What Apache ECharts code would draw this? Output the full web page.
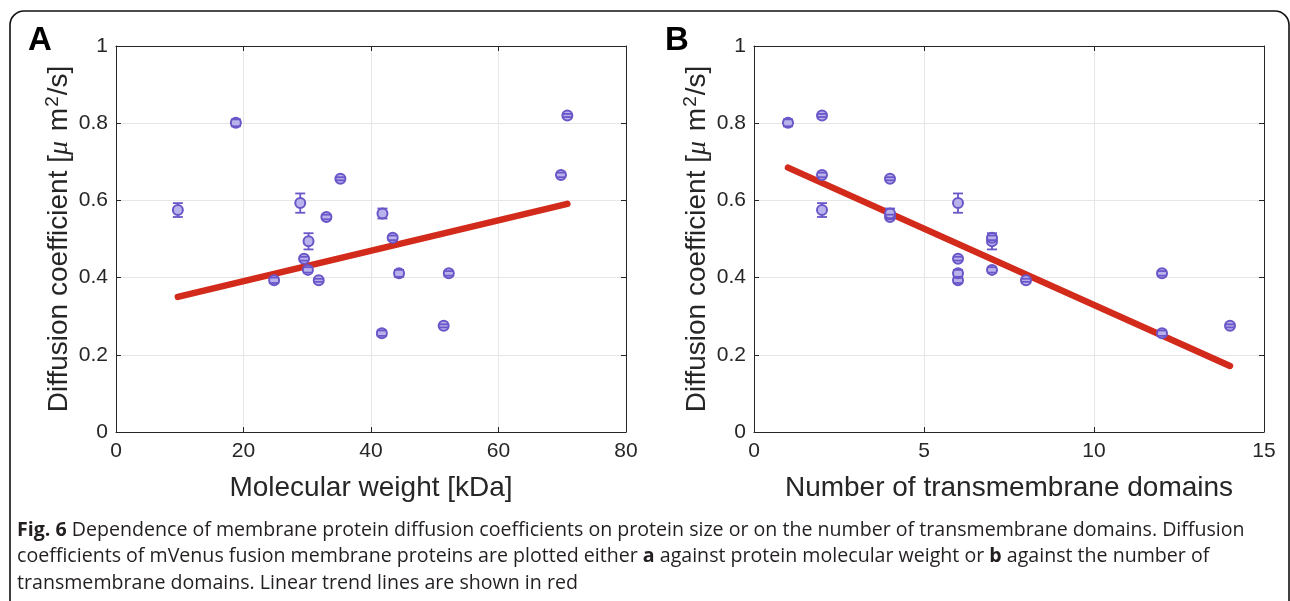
<!DOCTYPE html>
<html>
<head>
<meta charset="utf-8">
<script src="https://cdn.jsdelivr.net/npm/echarts@6/dist/echarts.min.js"></script>
<style>
  html, body { margin: 0; padding: 0; background: #fff; }
  #chart { width: 1290px; height: 601px; }
</style>
</head>
<body>
<div id="chart"></div>
<script>
// one entry per protein: molecular weight, number of TM domains, D and its error
var weightKDa = [9.7, 18.8, 28.9, 35.2, 33.0, 30.2, 29.5, 30.1, 24.8, 31.8, 41.8, 43.4, 44.4, 52.2, 69.8, 70.8, 41.7, 51.4];
var tmDomains = [2, 1, 6, 4, 4, 7, 6, 7, 6, 8, 4, 7, 6, 12, 2, 2, 12, 14];
var diffCoef = [0.575, 0.801, 0.593, 0.656, 0.557, 0.494, 0.449, 0.420, 0.393, 0.393, 0.566, 0.503, 0.411, 0.411, 0.666, 0.820, 0.256, 0.275];
var diffErr = [0.018, 0.009, 0.025, 0.004, 0.006, 0.021, 0.005, 0.007, 0.007, 0.004, 0.013, 0.006, 0.009, 0.006, 0.006, 0.004, 0.007, 0.004];

// linear trend lines (end points)
var trendWeightX = [9.7, 70.8];
var trendWeightY = [0.350, 0.591];
var trendTmX = [1, 14];
var trendTmY = [0.685, 0.171];

var PURPLE = '#6a56c8';
var FILL = '#b9b3ec';
var RED = '#d22a1b';
var AXIS = '#262626';
var FONT = '"Liberation Sans", Arial, sans-serif';

function rows(xs) {
    var out = [];
    for (var i = 0; i < xs.length; i++) {
        out.push([xs[i], diffCoef[i], diffErr[i]]);
    }
    return out;
}

function pairs(xs, ys) {
    var out = [];
    for (var i = 0; i < xs.length; i++) out.push([xs[i], ys[i]]);
    return out;
}

// vertical part of the error bar (under the marker)
function renderStem(params, api) {
    var x = api.value(0), y = api.value(1), e = api.value(2);
    var lo = api.coord([x, y - e]);
    var hi = api.coord([x, y + e]);
    return {
        type: 'line',
        shape: { x1: lo[0], y1: lo[1], x2: hi[0], y2: hi[1] },
        style: { stroke: PURPLE, lineWidth: 1.8 }
    };
}

// caps of the error bar (drawn over the marker)
function renderCaps(params, api) {
    var x = api.value(0), y = api.value(1), e = api.value(2);
    var lo = api.coord([x, y - e]);
    var hi = api.coord([x, y + e]);
    var w = 5;
    return {
        type: 'group',
        children: [
            { type: 'line', shape: { x1: lo[0] - w, y1: lo[1], x2: lo[0] + w, y2: lo[1] }, style: { stroke: PURPLE, lineWidth: 1.8 } },
            { type: 'line', shape: { x1: hi[0] - w, y1: hi[1], x2: hi[0] + w, y2: hi[1] }, style: { stroke: PURPLE, lineWidth: 1.8 } }
        ]
    };
}

function xAxes(gi, max, interval, name) {
    return [{
        gridIndex: gi, type: 'value', position: 'bottom', min: 0, max: max, interval: interval,
        name: name, nameLocation: 'middle', nameGap: 42,
        nameTextStyle: { fontSize: 28, color: AXIS, fontFamily: FONT },
        axisLine: { show: true, onZero: false, lineStyle: { color: AXIS, width: 1 } },
        axisTick: { show: true, inside: true, length: 5, lineStyle: { color: AXIS } },
        axisLabel: { fontSize: 21, color: AXIS, fontFamily: FONT, margin: 9 },
        splitLine: { show: true, lineStyle: { color: '#e6e6e6', width: 1 } }
    }, {
        gridIndex: gi, type: 'value', position: 'top', min: 0, max: max, interval: interval,
        axisLine: { show: true, onZero: false, lineStyle: { color: AXIS, width: 1 } },
        axisTick: { show: true, inside: true, length: 5, lineStyle: { color: AXIS } },
        axisLabel: { show: false },
        splitLine: { show: false }
    }];
}

function yAxes(gi) {
    return [{
        gridIndex: gi, type: 'value', position: 'left', min: 0, max: 1, interval: 0.2,
        name: 'Diffusion coefficient [{mu|μ} m{sup|2}/s]', nameLocation: 'middle', nameGap: 40,
        nameTextStyle: {
            fontSize: 28, color: AXIS, fontFamily: FONT,
            rich: {
                mu: { fontSize: 28, color: AXIS, fontStyle: 'italic', fontFamily: '"Liberation Serif", serif', padding: [0, 2, 0, 0] },
                sup: { fontSize: 19, color: AXIS, fontFamily: FONT, verticalAlign: 'bottom', padding: [0, 1, 14, 1] }
            }
        },
        axisLine: { show: true, onZero: false, lineStyle: { color: AXIS, width: 1 } },
        axisTick: { show: true, inside: true, length: 5, lineStyle: { color: AXIS } },
        axisLabel: { fontSize: 21, color: AXIS, fontFamily: FONT, margin: 8 },
        splitLine: { show: true, lineStyle: { color: '#e6e6e6', width: 1 } }
    }, {
        gridIndex: gi, type: 'value', position: 'right', min: 0, max: 1, interval: 0.2,
        axisLine: { show: true, onZero: false, lineStyle: { color: AXIS, width: 1 } },
        axisTick: { show: true, inside: true, length: 5, lineStyle: { color: AXIS } },
        axisLabel: { show: false },
        splitLine: { show: false }
    }];
}

function panelSeries(xi, yi, xs, trend) {
    return [{
        type: 'line', xAxisIndex: xi, yAxisIndex: yi, data: trend,
        symbol: 'none', z: 1, silent: true,
        lineStyle: { color: RED, width: 6.5, cap: 'round' }
    }, {
        type: 'custom', xAxisIndex: xi, yAxisIndex: yi, data: rows(xs),
        renderItem: renderStem, z: 2, silent: true
    }, {
        type: 'scatter', xAxisIndex: xi, yAxisIndex: yi, data: rows(xs),
        symbol: 'circle', symbolSize: 10, z: 3, silent: true,
        itemStyle: { color: FILL, borderColor: PURPLE, borderWidth: 2, opacity: 1 }
    }, {
        type: 'custom', xAxisIndex: xi, yAxisIndex: yi, data: rows(xs),
        renderItem: renderCaps, z: 4, silent: true
    }];
}

var chart = echarts.init(document.getElementById('chart'), null, { renderer: 'canvas' });

var caption = '{b|Fig. 6} Dependence of membrane protein diffusion coefficients on protein size or on the number of transmembrane domains. Diffusion\n' +
    'coefficients of mVenus fusion membrane proteins are plotted either {b|a} against protein molecular weight or {b|b} against the number of\n' +
    'transmembrane domains. Linear trend lines are shown in red';

chart.setOption({
    animation: false,
    backgroundColor: '#fff',
    grid: [
        { left: 116, top: 46, width: 510, height: 386 },
        { left: 754, top: 46, width: 510, height: 386 }
    ],
    xAxis: xAxes(0, 80, 20, 'Molecular weight [kDa]').concat(xAxes(1, 15, 5, 'Number of transmembrane domains')),
    yAxis: yAxes(0).concat(yAxes(1)),
    series: panelSeries(0, 0, weightKDa, pairs(trendWeightX, trendWeightY))
        .concat(panelSeries(2, 2, tmDomains, pairs(trendTmX, trendTmY))),
    graphic: [
        {
            type: 'rect', silent: true, z: 0,
            shape: { x: 10, y: 11, width: 1279, height: 620, r: 14 },
            style: { fill: 'none', stroke: '#111', lineWidth: 1.6 }
        },
        {
            type: 'text', left: 28, top: 24,
            style: { text: 'A', font: 'bold 33px ' + FONT, fill: '#000' }
        },
        {
            type: 'text', left: 665, top: 24,
            style: { text: 'B', font: 'bold 33px ' + FONT, fill: '#000' }
        },
        {
            type: 'text', left: 17, top: 517,
            style: {
                text: caption,
                fontSize: 19.6, fontFamily: '"Open Sans", sans-serif', fill: '#231f20', lineHeight: 26.5,
                rich: {
                    b: { fontSize: 19.6, fontWeight: 'bold', fontFamily: '"Open Sans", sans-serif', fill: '#231f20', lineHeight: 26.5 }
                }
            }
        }
    ]
});
</script>
</body>
</html>
